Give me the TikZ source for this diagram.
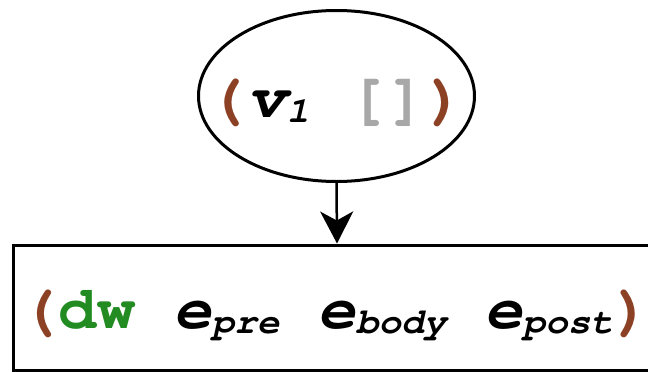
\documentclass[tikz,border=0pt]{standalone}
\usepackage[T1]{fontenc}
\usepackage{courier}
\usetikzlibrary{arrows.meta,shapes.geometric}
\definecolor{pbrown}{RGB}{140,64,36}
\definecolor{pgreen}{RGB}{34,139,34}
\definecolor{pgray}{RGB}{168,168,168}
\newcommand\bigfnt{\fontsize{61}{61}\selectfont\ttfamily\bfseries}
\newcommand\subfnt{\fontsize{36}{36}\selectfont\ttfamily\bfseries\slshape}
\newcommand\sbx[1]{\raisebox{-5pt}{\subfnt #1}}
\newcommand\vsl[1]{{\slshape #1}}
\begin{document}
\begin{tikzpicture}[x=1pt,y=-1pt,
  shapeline/.style={draw=black,line width=3pt},
  txt/.style={anchor=base,inner sep=0pt,font=\bigfnt}]
\useasboundingbox (0,0) rectangle (648,372);
\clip (0,0) rectangle (648,372);
\node[shapeline,ellipse,minimum width=276pt,minimum height=171pt,inner sep=0pt] (v) at (336.5,96) {};
\node[shapeline,rectangle,minimum width=648pt,minimum height=125pt,inner sep=0pt] (b) at (337,307.5) {};
\node[txt] (vt) at (337,117) {\scalebox{1.07}[1]{{\color{pbrown}(}\vsl{v}\sbx{1} {\color{pgray}[]}{\color{pbrown})}}};
\node[txt] (bt) at (336,328) {\scalebox{1.045}[1]{{\color{pbrown}(}{\color{pgreen}dw} \vsl{e}\sbx{pre} \vsl{e}\sbx{body} \vsl{e}\sbx{post}{\color{pbrown})}}};
\draw[line width=2.5pt,-{Stealth[length=32pt,width=33pt,inset=9pt]}] (v.south) -- (b.north);
\end{tikzpicture}
\end{document}
